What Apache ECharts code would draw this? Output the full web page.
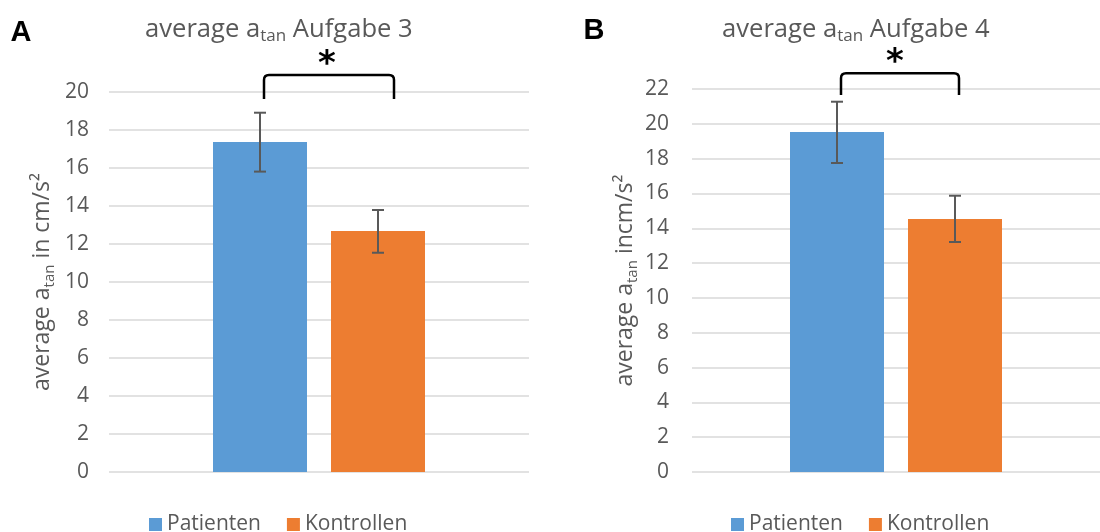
<!DOCTYPE html>
<html><head><meta charset="utf-8">
<script src="https://cdn.jsdelivr.net/npm/echarts@6/dist/echarts.min.js"></script>
<style>html,body{margin:0;padding:0;background:#fff}#c{width:1100px;height:532px}</style>
</head><body><div id="c"></div>
<script>
// ---------- data ----------
const categories = ['Gruppe'];
const seriesNames = ['Patienten', 'Kontrollen'];

// Panel A: Aufgabe 3  [Patienten, Kontrollen]
const meanA = [17.37, 12.68];
const errLowA = [15.81, 11.54];
const errHighA = [18.91, 13.79];
const bracketA = [19.63, 20.89];   // significance bracket (foot, top) in data units
const yTicksA = [0, 2, 4, 6, 8, 10, 12, 14, 16, 18, 20];

// Panel B: Aufgabe 4  [Patienten, Kontrollen]
const meanB = [19.53, 14.53];
const errLowB = [17.75, 13.21];
const errHighB = [21.27, 15.87];
const bracketB = [21.66, 22.91];
const yTicksB = [0, 2, 4, 6, 8, 10, 12, 14, 16, 18, 20, 22];

// ---------- style ----------
const FONT = '"Open Sans", sans-serif';
const TXT = '#595959';
const COLORS = ['#5B9BD5', '#ED7D31'];
const BAR_W = 94, GAP_PX = 24;
const HALF = (BAR_W + GAP_PX) / 2;

function richM(size, sub) {
  return {
    m: { fontSize: size, fontWeight: 'normal', lineHeight: 30, color: TXT, fontFamily: FONT, verticalAlign: 'middle' },
    s: { fontSize: sub, fontWeight: 'normal', lineHeight: 12, color: TXT, fontFamily: FONT, verticalAlign: 'bottom' }
  };
}

function errSeries(gi, lows, highs) {
  return {
    type: 'custom', name: 'err' + gi, xAxisIndex: gi, yAxisIndex: gi, z: 5, silent: true,
    data: lows.map((l, i) => [0, l, highs[i]]),
    renderItem(params, api) {
      const i = params.dataIndex;
      const lo = api.coord([api.value(0), api.value(1)]);
      const hi = api.coord([api.value(0), api.value(2)]);
      const x = lo[0] + (i === 0 ? -HALF : HALF);
      const cap = 6;
      const st = { stroke: '#595959', lineWidth: 2 };
      return { type: 'group', children: [
        { type: 'line', shape: { x1: x, y1: lo[1], x2: x, y2: hi[1] }, style: st },
        { type: 'line', shape: { x1: x - cap, y1: lo[1], x2: x + cap, y2: lo[1] }, style: st },
        { type: 'line', shape: { x1: x - cap, y1: hi[1], x2: x + cap, y2: hi[1] }, style: st }
      ] };
    }
  };
}

function bracketSeries(gi, vals, xoff, starOff) {
  return {
    type: 'custom', name: 'sig' + gi, xAxisIndex: gi, yAxisIndex: gi, z: 6, silent: true,
    data: [[0, vals[0], vals[1]]],
    renderItem(params, api) {
      const b = api.coord([api.value(0), api.value(1)]);
      const t = api.coord([api.value(0), api.value(2)]);
      const x1 = b[0] + xoff[0], x2 = b[0] + xoff[1], yb = b[1], yt = t[1], r = 5;
      const d = 'M' + x1 + ' ' + yb + 'L' + x1 + ' ' + (yt + r) + 'Q' + x1 + ' ' + yt + ' ' + (x1 + r) + ' ' + yt +
        'L' + (x2 - r) + ' ' + yt + 'Q' + x2 + ' ' + yt + ' ' + x2 + ' ' + (yt + r) + 'L' + x2 + ' ' + yb;
      return { type: 'group', children: [
        { type: 'path', shape: { pathData: d }, style: { stroke: '#000', lineWidth: 2.5, fill: null } },
        { type: 'text', x: (x1 + x2) / 2 + starOff, y: yt - 10,
          style: { text: '*', font: 'bold 34px "DejaVu Sans"', fill: '#000', align: 'center', verticalAlign: 'middle' } }
      ] };
    }
  };
}

function barSeries(gi, means) {
  return seriesNames.map((n, i) => ({
    type: 'bar', name: n, xAxisIndex: gi, yAxisIndex: gi,
    data: [means[i]], barWidth: BAR_W, barGap: (GAP_PX / BAR_W * 100) + '%',
    itemStyle: { color: COLORS[i] }, silent: true
  }));
}

function yAxis(gi, ticks, nameTail) {
  return {
    type: 'value', gridIndex: gi, min: ticks[0], max: ticks[ticks.length - 1], interval: ticks[1] - ticks[0],
    axisLine: { show: false }, axisTick: { show: false },
    axisLabel: { color: TXT, fontSize: 21, fontFamily: FONT, margin: gi === 0 ? 20 : 23 },
    splitLine: { lineStyle: { color: '#D9D9D9', width: 1.5 } },
    name: '{m|average a}{s|tan}{m|' + nameTail + '}',
    nameLocation: 'middle', nameRotate: 90, nameGap: 52,
    nameTextStyle: { color: TXT, fontFamily: FONT, fontSize: 23, rich: richM(23, 15) }
  };
}

function xAxis(gi) {
  return { type: 'category', gridIndex: gi, data: categories,
    axisLine: { show: false }, axisTick: { show: false }, axisLabel: { show: false }, splitLine: { show: false } };
}

function legend(left) {
  return { data: seriesNames, left: left, top: 514, padding: 0, itemWidth: 13, itemHeight: 13, itemGap: 26,
    icon: 'rect', selectedMode: false,
    textStyle: { color: TXT, fontSize: 21, fontFamily: FONT, lineHeight: 20 } };
}

const option = {
  animation: false,
  backgroundColor: '#fff',
  title: [
    { text: '{m|average a}{s|tan}{m| Aufgabe 3}', left: 145, top: 15, padding: 0, textStyle: { fontWeight: 'normal', rich: richM(25.6, 17) } },
    { text: '{m|average a}{s|tan}{m| Aufgabe 4}', left: 722, top: 15, padding: 0, textStyle: { fontWeight: 'normal', rich: richM(25.6, 17) } }
  ],
  grid: [
    { left: 109, top: 92, width: 420, bottom: 60 },
    { left: 692, top: 89, width: 416, bottom: 60 }
  ],
  xAxis: [xAxis(0), xAxis(1)],
  yAxis: [yAxis(0, yTicksA, ' in cm/s²'), yAxis(1, yTicksB, ' incm/s²')],
  legend: [legend(149), legend(731)],
  graphic: [
    { type: 'text', x: 21, y: 33, style: { text: 'A', font: 'bold 29px "Liberation Sans"', fill: '#000', align: 'center', verticalAlign: 'middle' } },
    { type: 'text', x: 594, y: 31, style: { text: 'B', font: 'bold 29px "Liberation Sans"', fill: '#000', align: 'center', verticalAlign: 'middle' } }
  ],
  series: [
    ...barSeries(0, meanA),
    ...barSeries(1, meanB),
    errSeries(0, errLowA, errHighA),
    errSeries(1, errLowB, errHighB),
    bracketSeries(0, bracketA, [-55, 75], -2),
    bracketSeries(1, bracketB, [-55, 63], -5)
  ]
};

const chart = echarts.init(document.getElementById('c'), null, { renderer: 'canvas' });
chart.setOption(option);
</script>
</body></html>
